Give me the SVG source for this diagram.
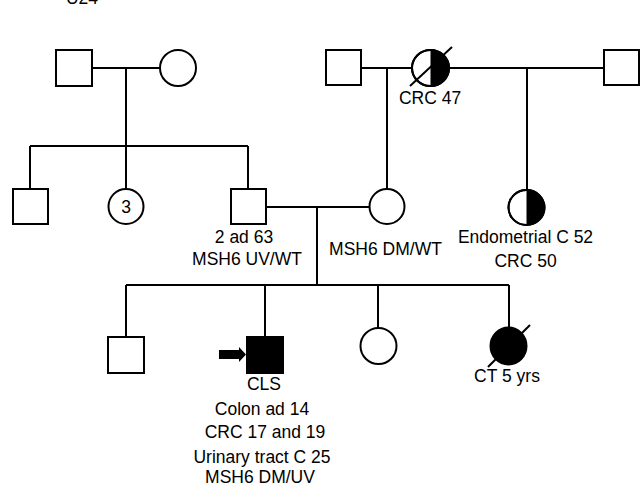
<svg xmlns="http://www.w3.org/2000/svg" width="640" height="494" viewBox="0 0 640 494">
<style>
.s{fill:#fff;stroke:#000;stroke-width:2}
.f{fill:#000;stroke:#000;stroke-width:2}
.l{fill:none;stroke:#000;stroke-width:2}
text{font-family:"Liberation Sans",Arial,sans-serif;font-size:17.5px;fill:#000;text-anchor:middle}
</style>
<rect width="640" height="494" fill="#fff"/>
<text x="82" y="4">U24</text>
<g id="connectors">
<path class="l" d="M92,68H160M126,68V146M30,146H248M30,146V189M126,146V189M248,146V189"/>
<path class="l" d="M361,68H412M387,68V189M449,68H604M527,68V190"/>
<path class="l" d="M265,207H370M317,207V285M126,285H509M126,285V337M265,285V337M378,285V328M509,285V327"/>
</g>
<g id="g1_father"><rect class="s" x="56" y="50" width="36" height="36"/></g>
<g id="g1_mother"><ellipse class="s" cx="178" cy="68" rx="18" ry="18"/></g>
<g id="g1_father2"><rect class="s" x="326" y="50" width="35" height="35"/></g>
<g id="g1_mother2">
<ellipse class="s" cx="430.5" cy="68" rx="18.5" ry="18"/>
<path d="M430.5,50A18.5,18 0 0 1 430.5,86Z" fill="#000"/>
<ellipse class="l" cx="430.5" cy="68" rx="18.5" ry="18"/>
<line class="l" x1="410" y1="86" x2="452" y2="47"/>
<text x="430" y="104">CRC 47</text>
</g>
<g id="g1_father3"><rect class="s" x="604" y="50" width="35" height="35"/></g>
<g id="g2_son1"><rect class="s" x="13" y="189" width="35" height="35"/></g>
<g id="g2_daughters"><ellipse class="s" cx="126" cy="206.5" rx="17.5" ry="17.5"/><text x="126" y="213">3</text></g>
<g id="g2_father"><rect class="s" x="231" y="189" width="35" height="35"/>
<text x="244" y="243">2 ad 63</text>
<text x="247" y="265">MSH6 UV/WT</text></g>
<g id="g2_mother"><ellipse class="s" cx="387" cy="206.5" rx="17.5" ry="17.5"/>
<text x="385.5" y="255">MSH6 DM/WT</text></g>
<g id="g2_aunt">
<ellipse class="s" cx="526.5" cy="207.5" rx="18" ry="17.5"/>
<path d="M526.5,190A18,17.5 0 0 1 526.5,225Z" fill="#000"/>
<ellipse class="l" cx="526.5" cy="207.5" rx="18" ry="17.5"/>
<text x="525.5" y="243">Endometrial C 52</text>
<text x="525.5" y="267">CRC 50</text>
</g>
<g id="g3_brother"><rect class="s" x="108" y="337" width="36" height="36"/></g>
<g id="g3_proband"><rect class="f" x="247" y="337" width="36" height="36"/>
<polygon points="219,350 239,350 239,347 246,354.5 239,362 239,359 219,359" fill="#000"/>
<text x="264" y="390">CLS</text>
<text x="262" y="415">Colon ad 14</text>
<text x="265" y="438">CRC 17 and 19</text>
<text x="262" y="463">Urinary tract C 25</text>
<text x="260" y="483">MSH6 DM/UV</text></g>
<g id="g3_sister"><ellipse class="s" cx="378.5" cy="346" rx="18" ry="18"/></g>
<g id="g3_sister2"><ellipse class="f" cx="508.5" cy="346" rx="18" ry="18.5"/>
<line class="l" x1="488" y1="367" x2="530" y2="325"/>
<text x="507" y="382">CT 5 yrs</text></g>
</svg>
